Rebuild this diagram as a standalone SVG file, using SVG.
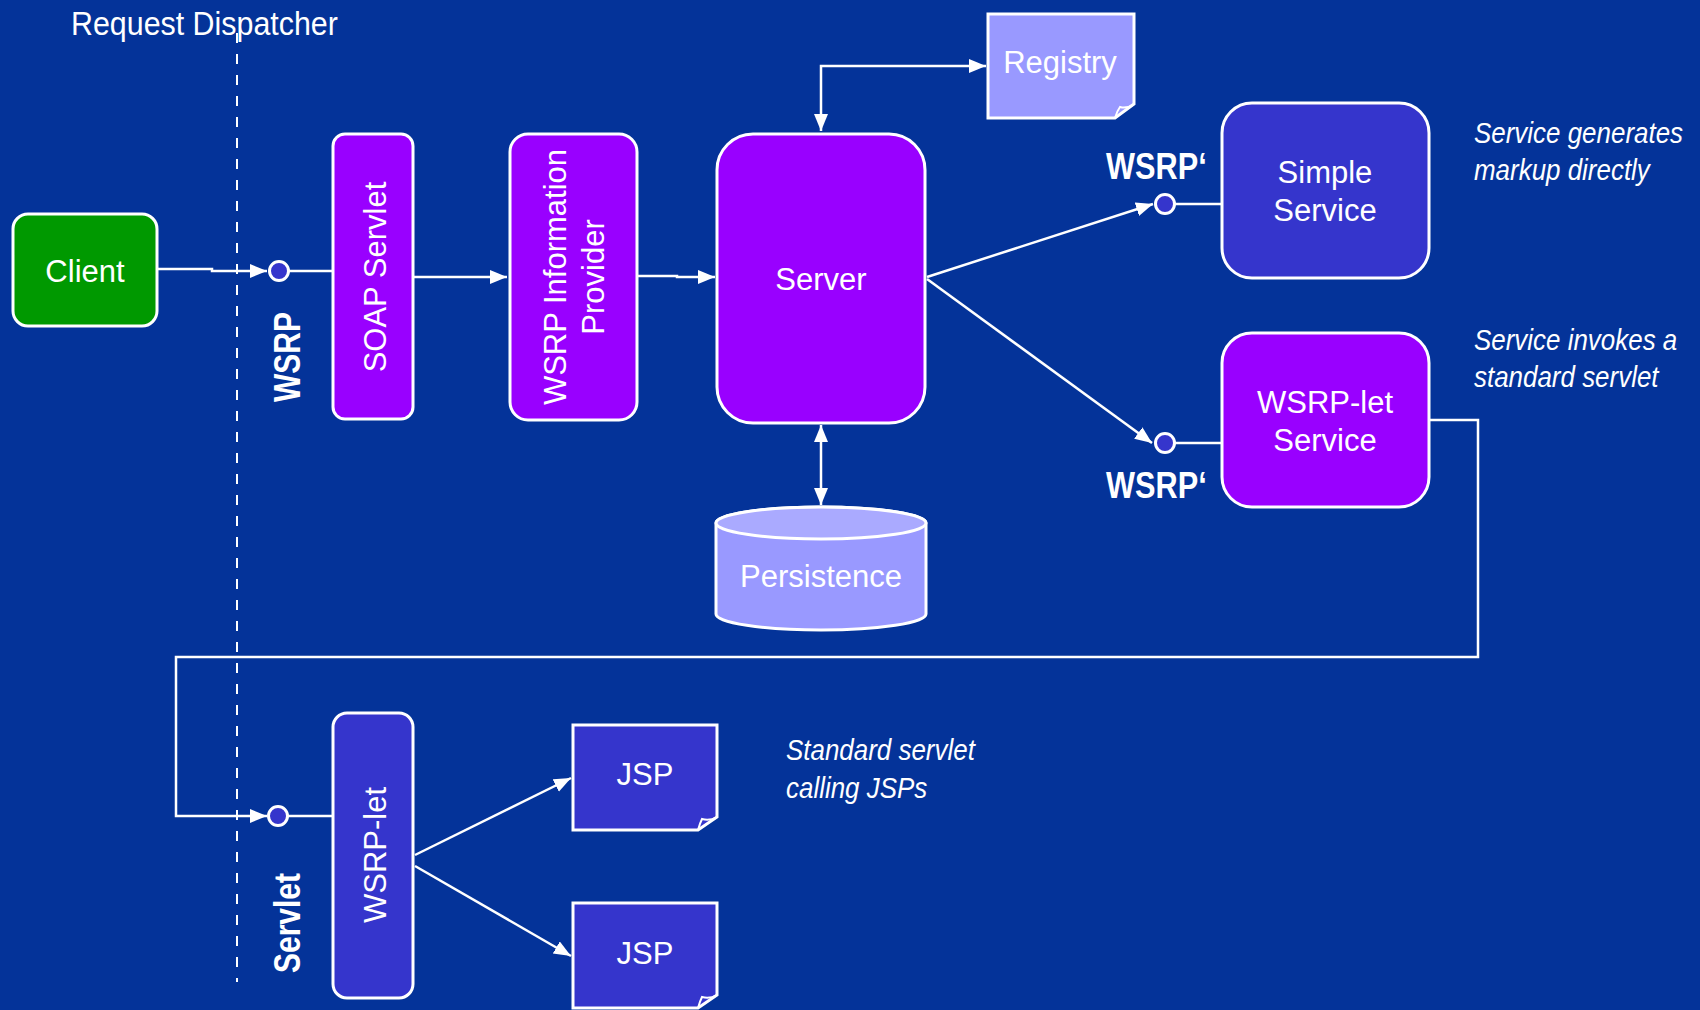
<svg xmlns="http://www.w3.org/2000/svg" width="1700" height="1010" viewBox="0 0 1700 1010">
  <style>
    .node { stroke: #ffffff; stroke-width: 3; }
    .purple { fill: #9900ff; }
    .blue { fill: #3535cc; }
    .green { fill: #009900; }
    .light { fill: #9999ff; }
    .port { fill: #3535cc; stroke: #ffffff; stroke-width: 3; }
    .conn { fill: none; stroke: #ffffff; stroke-width: 2.5; }
    .lbl { font-family: "Liberation Sans", Arial, sans-serif; font-size: 31px; fill: #ffffff; text-anchor: middle; }
    .narrow { font-family: "Liberation Sans", Arial, sans-serif; fill: #ffffff; }
    .bold { font-weight: bold; font-size: 37px; }
    .note { font-style: italic; font-size: 30px; }
  </style>
  <defs>
    <marker id="arrow" markerUnits="userSpaceOnUse" markerWidth="18" markerHeight="16" refX="17" refY="7" orient="auto-start-reverse">
      <path d="M0,0 L17,7 L0,14 Z" fill="#ffffff"/>
    </marker>
  </defs>

  <rect width="1700" height="1010" fill="#043399"/>

  <!-- request dispatcher boundary -->
  <g id="dispatcher">
    <line x1="237" y1="33" x2="237" y2="982" stroke="#ffffff" stroke-width="2" stroke-dasharray="10 11"/>
    <text class="narrow" font-size="34" transform="translate(71,35) scale(0.894,1)">Request Dispatcher</text>
  </g>

  <!-- connectors -->
  <g id="connectors">
    <path class="conn" d="M157,269 H212 V271 H267" marker-end="url(#arrow)"/>
    <path class="conn" d="M289,271 H332"/>
    <path class="conn" d="M413,277 H507" marker-end="url(#arrow)"/>
    <path class="conn" d="M637,276 H677 V277 H715" marker-end="url(#arrow)"/>
    <path class="conn" d="M821,131 V66 H986" marker-start="url(#arrow)" marker-end="url(#arrow)"/>
    <path class="conn" d="M821,425 V505" marker-start="url(#arrow)" marker-end="url(#arrow)"/>
    <path class="conn" d="M927,277 L1153,204" marker-end="url(#arrow)"/>
    <path class="conn" d="M927,279 L1152,443" marker-end="url(#arrow)"/>
    <path class="conn" d="M1175,204 H1221"/>
    <path class="conn" d="M1175,443 H1221"/>
    <path class="conn" d="M1429,420 H1478 V657 H176 V816 H267" marker-end="url(#arrow)"/>
    <path class="conn" d="M288,816 H333"/>
    <path class="conn" d="M415,855 L571,778" marker-end="url(#arrow)"/>
    <path class="conn" d="M415,866 L571,956" marker-end="url(#arrow)"/>
  </g>

  <!-- ports -->
  <g id="port-wsrp">
    <circle class="port" cx="279" cy="271" r="9.5"/>
    <text class="narrow bold" text-anchor="middle" transform="translate(300,357) rotate(-90) scale(0.81,1)">WSRP</text>
  </g>
  <g id="port-servlet">
    <circle class="port" cx="278" cy="816" r="9.5"/>
    <text class="narrow bold" text-anchor="middle" transform="translate(300,923) rotate(-90) scale(0.81,1)">Servlet</text>
  </g>
  <g id="port-simple">
    <circle class="port" cx="1165" cy="204" r="9.5"/>
    <text class="narrow bold" transform="translate(1106,179) scale(0.83,1)">WSRP‘</text>
  </g>
  <g id="port-wsrplet">
    <circle class="port" cx="1165" cy="443" r="9.5"/>
    <text class="narrow bold" transform="translate(1106,498) scale(0.83,1)">WSRP‘</text>
  </g>

  <g id="client">
    <rect class="node green" x="13" y="214" width="144" height="112" rx="15"/>
    <text class="lbl" x="85" y="282">Client</text>
  </g>

  <g id="soap-servlet">
    <rect class="node purple" x="333" y="134" width="80" height="285" rx="12"/>
    <text class="lbl" transform="translate(386,277) rotate(-90)">SOAP Servlet</text>
  </g>

  <g id="wsrp-information-provider">
    <rect class="node purple" x="510" y="134" width="127" height="286" rx="18"/>
    <text class="lbl" transform="translate(566,277) rotate(-90)">WSRP Information</text>
    <text class="lbl" transform="translate(604,277) rotate(-90)">Provider</text>
  </g>

  <g id="server">
    <rect class="node purple" x="717" y="134" width="208" height="289" rx="36"/>
    <text class="lbl" x="821" y="290">Server</text>
  </g>

  <g id="registry">
    <path class="node light" d="M988,14 H1134 V104 L1115,118 H988 Z"/>
    <path d="M1115,118 Q1117,111 1120,107 Q1127,109 1134,104" fill="none" stroke="#ffffff" stroke-width="2"/>
    <text class="lbl" x="1060" y="73">Registry</text>
  </g>

  <g id="persistence">
    <path class="node light" d="M716,523 V614 A105,16 0 0 0 926,614 V523 A105,16 0 0 0 716,523 Z"/>
    <ellipse class="node" cx="821" cy="523" rx="105" ry="16" fill="#aaaaff"/>
    <text class="lbl" x="821" y="587">Persistence</text>
  </g>

  <g id="simple-service">
    <rect class="node blue" x="1222" y="103" width="207" height="175" rx="30"/>
    <text class="lbl" x="1325" y="183">Simple</text>
    <text class="lbl" x="1325" y="221">Service</text>
  </g>

  <g id="wsrp-let-service">
    <rect class="node purple" x="1222" y="333" width="207" height="174" rx="30"/>
    <text class="lbl" x="1325" y="413">WSRP-let</text>
    <text class="lbl" x="1325" y="451">Service</text>
  </g>

  <g id="wsrp-let">
    <rect class="node blue" x="333" y="713" width="80" height="285" rx="14"/>
    <text class="lbl" transform="translate(386,855) rotate(-90)">WSRP-let</text>
  </g>

  <g id="jsp-1">
    <path class="node blue" d="M573,725 H717 V817 L698,830 H573 Z"/>
    <path d="M698,830 Q700,823 702,819 Q710,821 717,817" fill="none" stroke="#ffffff" stroke-width="2"/>
    <text class="lbl" x="645" y="785">JSP</text>
  </g>

  <g id="jsp-2">
    <path class="node blue" d="M573,903 H717 V995 L698,1008 H573 Z"/>
    <path d="M698,1008 Q700,1001 702,997 Q710,999 717,995" fill="none" stroke="#ffffff" stroke-width="2"/>
    <text class="lbl" x="645" y="964">JSP</text>
  </g>

  <!-- annotations (condensed italic) -->
  <g id="notes">
    <text class="narrow note" transform="translate(1474,143) scale(0.865,1)">Service generates</text>
    <text class="narrow note" transform="translate(1474,180) scale(0.865,1)">markup directly</text>
    <text class="narrow note" transform="translate(1474,350) scale(0.865,1)">Service invokes a</text>
    <text class="narrow note" transform="translate(1474,387) scale(0.865,1)">standard servlet</text>
    <text class="narrow note" transform="translate(786,760) scale(0.865,1)">Standard servlet</text>
    <text class="narrow note" transform="translate(786,798) scale(0.865,1)">calling JSPs</text>
  </g>
</svg>
